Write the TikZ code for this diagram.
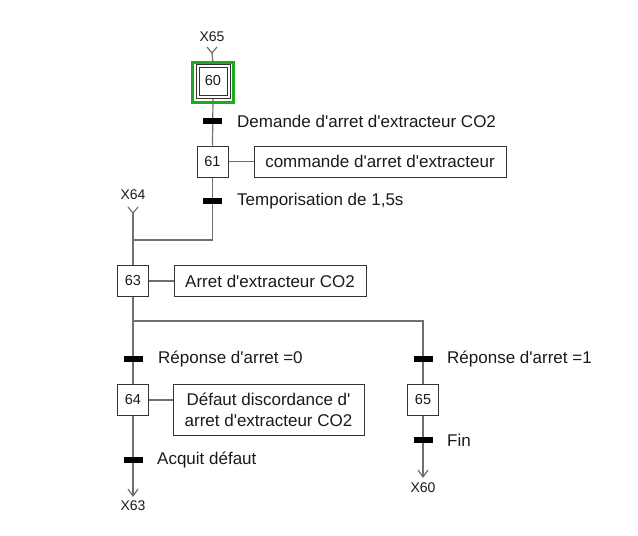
\documentclass[tikz,border=0pt]{standalone}
\usepackage{fontspec}
\setmainfont{Liberation Sans}
\usetikzlibrary{backgrounds}
\definecolor{linkgray}{HTML}{707070}
\definecolor{boxgray}{HTML}{333333}
\definecolor{txt}{HTML}{1A1A1A}
\definecolor{initgreen}{HTML}{1EAA1E}
\newcommand{\ap}{\textquotesingle}
\begin{document}
\begin{tikzpicture}[x=1pt,y=-1pt,
  link/.style={draw=linkgray,line width=1.2pt},
  stepbox/.style={draw=boxgray,line width=0.9pt,minimum size=31pt,inner sep=0pt,font=\fontsize{14.5}{16}\selectfont,text=txt},
  actbox/.style={draw=boxgray,line width=0.9pt,inner sep=0pt,font=\fontsize{17}{21}\selectfont,text=txt,align=center},
  trbar/.style={fill=black,minimum width=19pt,minimum height=6pt,inner sep=0pt},
  rcpt/.style={anchor=west,font=\fontsize{17}{20}\selectfont,text=txt,inner sep=0pt},
  lbl/.style={font=\fontsize{14}{15}\selectfont,text=txt,inner sep=0pt}]
\useasboundingbox (0,0) rectangle (638,536);

% initial step 60
\node[draw=initgreen,line width=3pt,minimum width=41pt,minimum height=40pt,inner sep=0pt] (g60) at (213,82) {};
\node[draw=boxgray,line width=0.9pt,minimum size=34pt,inner sep=0pt] (s60o) at (213,81) {};
\node[stepbox,minimum size=28pt] (s60) at (213,81) {60};
\node[lbl] (x65) at (212,37) {X65};
\coordinate (v65) at (212,53);

% step 61
\node[stepbox] (s61) at (212.5,161.5) {61};
\node[actbox,minimum width=252pt,minimum height=31pt] (a61) at (380,161.5) {commande d\ap arret d\ap extracteur};

% transitions top
\node[trbar] (t1) at (212.5,121) {};
\node[rcpt] (r1) at (237,121) {Demande d\ap arret d\ap extracteur CO2};
\node[trbar] (t2) at (212.5,201) {};
\node[rcpt] (r2) at (237,201) {Temporisation de 1,5s};

% X64 entry and step 63
\node[lbl] (x64) at (133,195) {X64};
\coordinate (v64) at (133,213);
\coordinate (j1) at (212.5,240);
\coordinate (j2) at (133,240);
\node[stepbox] (s63) at (133,281) {63};
\node[actbox,minimum width=192pt,minimum height=31pt] (a63) at (270,281) {Arret d\ap extracteur CO2};

% divergence
\coordinate (d1) at (133,321);
\coordinate (d2) at (423,321);
\node[trbar] (t3) at (133,359) {};
\node[rcpt] (r3) at (158,359) {Réponse d\ap arret =0};
\node[trbar] (t4) at (423,359) {};
\node[rcpt] (r4) at (447,359) {Réponse d\ap arret =1};

% steps 64, 65
\node[stepbox] (s64) at (133,400) {64};
\node[actbox,minimum width=191pt,minimum height=51pt] (a64) at (268.5,409.5) {Défaut discordance d\ap\\arret d\ap extracteur CO2};
\node[stepbox] (s65) at (423,400) {65};

% final transitions
\node[trbar] (t5) at (133,460) {};
\node[rcpt] (r5) at (157,460) {Acquit défaut};
\node[trbar] (t6) at (423,440) {};
\node[rcpt] (r6) at (447,440) {Fin};
\coordinate (v63) at (133,496);
\node[lbl] (x63) at (133,506) {X63};
\coordinate (v60) at (423,477);
\node[lbl] (x60) at (423,488) {X60};

\begin{scope}[on background layer]
  \draw[link] (v65) ++(-5,-6) -- (v65) -- ++(5,-6);
  \draw[link] (v65) -- (s60o.north);
  \draw[link] (s60o.south) -- (s61.north);
  \draw[link] (s61.east) -- (a61.west);
  \draw[link] (s61.south) -- (j1) -- (j2);
  \draw[link] (v64) ++(-5,-6) -- (v64) -- ++(5,-6);
  \draw[link] (v64) -- (s63.north);
  \draw[link] (s63.east) -- (a63.west);
  \draw[link] (s63.south) -- (s64.north);
  \draw[link] (d1) -- (d2) -- (s65.north);
  \draw[link] (s64.east) -- (a64.west |- s64.east);
  \draw[link] (s64.south) -- (v63);
  \draw[link] (v63) ++(-5,-7) -- (v63) -- ++(5,-7);
  \draw[link] (s65.south) -- (v60);
  \draw[link] (v60) ++(-5,-7) -- (v60) -- ++(5,-7);
\end{scope}
\end{tikzpicture}
\end{document}
